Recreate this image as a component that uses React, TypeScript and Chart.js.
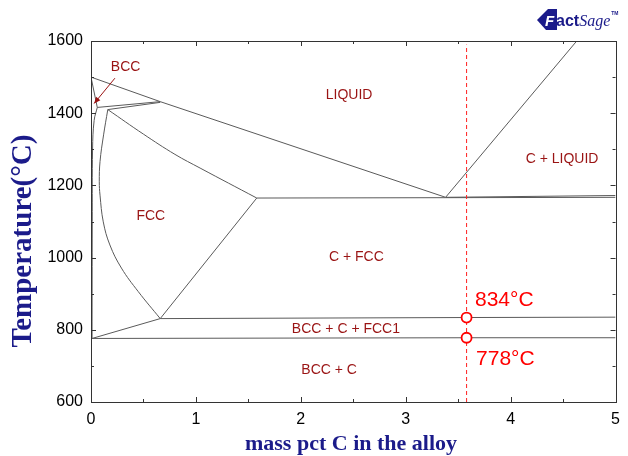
import React, { useEffect, useRef } from 'react';
import { Chart, registerables } from 'chart.js';

Chart.register(...registerables);

// ---- axis settings ----
const xMin = 0;
const xMax = 5;
const yMin = 600;
const yMax = 1600;
const xTickStep = 1;
const yTickStep = 200;

// ---- phase boundaries: [mass pct C, temperature °C] ----
const liquidus = [[0, 1500], [0.66, 1432], [3.38, 1167]];
const graphiteLiquidus = [[3.38, 1167], [4.63, 1600]];
const eutecticLine = [[1.58, 1165], [3.38, 1166], [5, 1167]];
const eutecticUpper = [[3.38, 1167], [5, 1172]];
const deltaSolidus = [[0, 1500], [0.06, 1416]];
const peritecticUpper = [[0.06, 1416], [0.66, 1432]];
const peritecticLower = [[0.16, 1410], [0.66, 1430]];
const deltaBoundary = [[0.06, 1416], [0.03, 1380], [0.015, 1300], [0.012, 1100], [0.01, 776]];
const gammaBoundary = [[0.16, 1410], [0.12, 1340], [0.086, 1266], [0.079, 1210], [0.086, 1173], [0.117, 1099], [0.18, 1035], [0.29, 971], [0.45, 906], [0.66, 831]];
const fccSolidus = [[0.16, 1410], [0.5, 1342], [0.8, 1286], [1.04, 1248], [1.58, 1165]];
const acmLine = [[1.58, 1165], [0.66, 831]];
const eutectoidUpper = [[0.66, 831], [3.58, 834], [5, 835]];
const ferriteLine = [[0.01, 776], [0.66, 831]];
const eutectoidLower = [[0.01, 776], [3.58, 778], [5, 778]];

const straightBoundaries = [
  liquidus, graphiteLiquidus, eutecticLine, eutecticUpper, deltaSolidus,
  peritecticUpper, peritecticLower, acmLine, eutectoidUpper, ferriteLine, eutectoidLower,
];
const curvedBoundaries = [deltaBoundary, gammaBoundary, fccSolidus];

// ---- alloy composition line and marked points ----
const alloyC = 3.58;
const markerT = [834, 778];
const markerLabels = ['834°C', '778°C'];
const markerLabelX = [3.66, 3.67];
const markerLabelT = [883, 719];

// ---- region labels ----
const regionLabels = ['BCC', 'LIQUID', 'C + LIQUID', 'FCC', 'C + FCC', 'BCC + C + FCC1', 'BCC + C'];
const regionX = [0.33, 2.46, 4.49, 0.57, 2.53, 2.43, 2.27];
const regionT = [1528, 1450, 1273, 1115, 1002, 802, 689];
const arrowFrom = [0.228, 1497];
const arrowTo = [0.03, 1427];

const xTitle = 'mass pct C in the alloy';
const yTitle = 'Temperature(°C)';

const NAVY = '#1b1b8a';
const DARKRED = '#9a1414';
const SANS = '"Liberation Sans", Arial, sans-serif';
const SERIF = '"Liberation Serif", "Times New Roman", serif';

const overlay = {
  id: 'overlay',
  afterDatasetsDraw(chart: any) {
    const ctx = chart.ctx;
    const xs = chart.scales.x;
    const ys = chart.scales.y;
    ctx.save();
    ctx.fillStyle = DARKRED;
    ctx.font = `14px ${SANS}`;
    ctx.textAlign = 'center';
    ctx.textBaseline = 'middle';
    regionLabels.forEach((t, i) => {
      ctx.fillText(t, xs.getPixelForValue(regionX[i]), ys.getPixelForValue(regionT[i]));
    });
    const x1 = xs.getPixelForValue(arrowFrom[0]);
    const y1 = ys.getPixelForValue(arrowFrom[1]);
    const x2 = xs.getPixelForValue(arrowTo[0]);
    const y2 = ys.getPixelForValue(arrowTo[1]);
    ctx.strokeStyle = DARKRED;
    ctx.lineWidth = 1;
    ctx.beginPath();
    ctx.moveTo(x1, y1);
    ctx.lineTo(x2, y2);
    ctx.stroke();
    const ang = Math.atan2(y2 - y1, x2 - x1);
    const L = 7;
    ctx.beginPath();
    ctx.moveTo(x2, y2);
    ctx.lineTo(x2 - L * Math.cos(ang - 0.4), y2 - L * Math.sin(ang - 0.4));
    ctx.lineTo(x2 - L * Math.cos(ang + 0.4), y2 - L * Math.sin(ang + 0.4));
    ctx.closePath();
    ctx.fillStyle = DARKRED;
    ctx.fill();
    ctx.fillStyle = '#ff0000';
    ctx.font = `21px ${SANS}`;
    ctx.textAlign = 'left';
    markerLabels.forEach((t, i) => {
      ctx.fillText(t, xs.getPixelForValue(markerLabelX[i]), ys.getPixelForValue(markerLabelT[i]));
    });
    ctx.restore();
  },
  afterDraw(chart: any) {
    const ctx = chart.ctx;
    const xs = chart.scales.x;
    const ys = chart.scales.y;
    const a = chart.chartArea;
    ctx.save();
    ctx.strokeStyle = '#333';
    ctx.lineWidth = 1;
    ctx.strokeRect(Math.round(a.left) + 0.5, Math.round(a.top) + 0.5, Math.round(a.right - a.left), Math.round(a.bottom - a.top));
    ctx.beginPath();
    for (let v = xMin; v <= xMax + 1e-9; v += 0.5) {
      const px = Math.round(xs.getPixelForValue(v)) + 0.5;
      const len = Math.abs(v - Math.round(v)) < 1e-9 ? 5 : 3;
      ctx.moveTo(px, a.bottom);
      ctx.lineTo(px, a.bottom - len);
      ctx.moveTo(px, a.top);
      ctx.lineTo(px, a.top + len);
    }
    for (let v = yMin; v <= yMax; v += 100) {
      const py = Math.round(ys.getPixelForValue(v)) + 0.5;
      const len = v % 200 === 0 ? 5 : 3;
      ctx.moveTo(a.left, py);
      ctx.lineTo(a.left + len, py);
      ctx.moveTo(a.right, py);
      ctx.lineTo(a.right - len, py);
    }
    ctx.stroke();
    ctx.fillStyle = NAVY;
    ctx.font = `bold 22px ${SERIF}`;
    ctx.textAlign = 'center';
    ctx.textBaseline = 'middle';
    ctx.fillText(xTitle, 351, 444);
    ctx.save();
    ctx.translate(24, 241);
    ctx.rotate(-Math.PI / 2);
    ctx.font = `bold 29px ${SERIF}`;
    ctx.fillText(yTitle, 0, 0);
    ctx.restore();
    // FactSage logo
    ctx.fillStyle = NAVY;
    ctx.beginPath();
    ctx.moveTo(537, 20);
    ctx.lineTo(548, 9);
    ctx.lineTo(557, 9);
    ctx.lineTo(557, 30);
    ctx.lineTo(546, 30);
    ctx.closePath();
    ctx.fill();
    ctx.fillStyle = '#ffffff';
    ctx.font = `bold italic 15px ${SANS}`;
    ctx.textAlign = 'left';
    ctx.textBaseline = 'alphabetic';
    ctx.fillText('F', 545, 26);
    ctx.fillStyle = NAVY;
    ctx.font = `bold 16px ${SANS}`;
    ctx.fillText('act', 556, 26);
    const w = ctx.measureText('act').width;
    ctx.font = `italic 16px ${SERIF}`;
    ctx.fillText('Sage', 556 + w, 26);
    const w2 = ctx.measureText('Sage').width;
    ctx.font = `bold 5px ${SANS}`;
    ctx.fillText('TM', 557 + w + w2, 15);
    ctx.restore();
  },
};

export default function App() {
  const ref = useRef<HTMLCanvasElement>(null);
  useEffect(() => {
    const canvas = ref.current!;
    const mk = (b: number[][], tension: number) => ({
      type: 'scatter' as const,
      data: b.map((p) => ({ x: p[0], y: p[1] })),
      showLine: true,
      borderColor: '#5a5a5a',
      borderWidth: 1,
      pointRadius: 0,
      tension,
      order: 3,
    });
    const chart = new Chart(canvas, {
      type: 'scatter',
      data: {
        datasets: [
          {
            data: markerT.map((t) => ({ x: alloyC, y: t })),
            pointRadius: 5,
            pointStyle: 'circle',
            borderColor: '#ff0000',
            backgroundColor: '#ffffff',
            borderWidth: 1.8,
            order: 0,
          },
          {
            data: [{ x: alloyC, y: yMin }, { x: alloyC, y: yMax - 10 }],
            showLine: true,
            borderColor: '#ff2020',
            borderWidth: 1,
            borderDash: [4, 3],
            pointRadius: 0,
            order: 1,
          },
          ...straightBoundaries.map((b) => mk(b, 0)),
          ...curvedBoundaries.map((b) => mk(b, 0.4)),
        ] as any,
      },
      options: {
        animation: false,
        responsive: false,
        devicePixelRatio: 1,
        layout: { padding: { left: 0, right: 11, top: 41, bottom: 0 } },
        plugins: { legend: { display: false }, tooltip: { enabled: false } },
        scales: {
          x: {
            type: 'linear',
            min: xMin,
            max: xMax,
            grid: { display: false, drawTicks: false },
            border: { display: false },
            ticks: { stepSize: xTickStep, color: '#000', padding: 8, font: { size: 16, family: SANS }, callback: (v: any) => String(v) },
            afterFit: (s: any) => { s.height = 54; },
          },
          y: {
            type: 'linear',
            min: yMin,
            max: yMax,
            grid: { display: false, drawTicks: false },
            border: { display: false },
            ticks: { stepSize: yTickStep, color: '#000', padding: 8, font: { size: 16, family: SANS }, callback: (v: any) => String(v) },
            afterFit: (s: any) => { s.width = 91; },
          },
        },
      },
      plugins: [overlay],
    });
    return () => chart.destroy();
  }, []);
  return (
    <div style={{ position: 'fixed', left: 0, top: 0, width: 628, height: 456, background: '#fff' }}>
      <canvas ref={ref} width={628} height={456} style={{ display: 'block' }} />
    </div>
  );
}
